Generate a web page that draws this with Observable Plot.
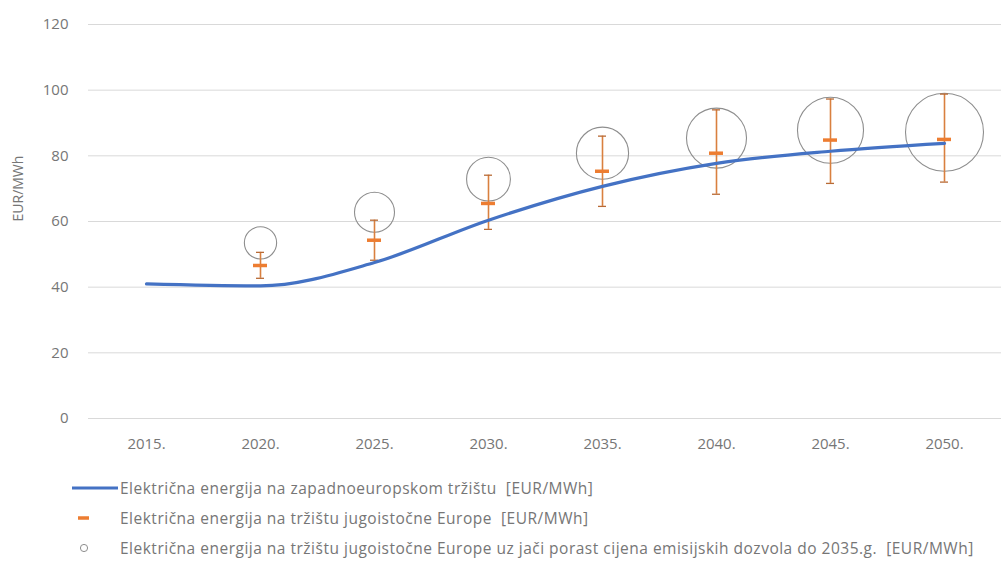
<!DOCTYPE html>
<html><head><meta charset="utf-8">
<script src="https://cdn.jsdelivr.net/npm/d3@7"></script>
<script src="https://cdn.jsdelivr.net/npm/@observablehq/plot@0.6"></script>
<style>
body{margin:0;background:#fff;font-family:"Open Sans",sans-serif;}
#wrap{position:relative;width:1005px;height:563px;}
#legend{position:absolute;left:0;top:460px;width:1005px;height:103px;}
.row{position:absolute;left:0;height:20px;width:1005px;font-size:15.5px;letter-spacing:0.5px;color:#767676;white-space:pre;}
.row svg{position:absolute;left:0;top:0;}
.row span{position:absolute;left:120px;top:0;line-height:20px;}
#chart svg g[aria-label="x-axis tick label"], #chart svg g[aria-label="y-axis tick label"],
#chart svg g[aria-label="x-axis"], #chart svg g[aria-label="y-axis"]{font-size:15px;}
</style>
</head><body><div id="wrap"><div id="chart"></div><div id="legend"></div></div>
<script>
const years = ["2015.","2020.","2025.","2030.","2035.","2040.","2045.","2050."];
const westPrice = [41.0, 40.4, 47.5, 60.4, 70.7, 77.7, 81.4, 83.8];
const seeYears = ["2020.","2025.","2030.","2035.","2040.","2045.","2050."];
const seePrice = [46.6, 54.3, 65.5, 75.3, 80.8, 84.8, 85.0];
const seeLow = [42.7, 48.2, 57.6, 64.6, 68.3, 71.6, 72.0];
const seeHigh = [50.6, 60.4, 74.1, 86.0, 94.0, 97.3, 98.8];
const seeHighCO2 = [53.5, 62.8, 72.9, 80.8, 85.4, 87.8, 87.2];
const bubbleSize = [2.6, 4.0, 4.8, 6.8, 9.0, 10.9, 15.2];
const yTicks = [0, 20, 40, 60, 80, 100, 120];
const yLabel = "EUR/MWh";
const legendLabels = [
  "Električna energija na zapadnoeuropskom tržištu  [EUR/MWh]",
  "Električna energija na tržištu jugoistočne Europe  [EUR/MWh]",
  "Električna energija na tržištu jugoistočne Europe uz jači porast cijena emisijskih dozvola do 2035.g.  [EUR/MWh]"
];

const west = years.map((year, i) => ({year, value: westPrice[i]}));
const see = seeYears.map((year, i) => ({year, value: seePrice[i], low: seeLow[i], high: seeHigh[i], co2: seeHighCO2[i], size: bubbleSize[i]}));

const blue = "#4472C4", orange = "#ED7D31", err = "#d9803f", gray = "#8e8e8e";

const chart = Plot.plot({
  width: 1005, height: 460,
  marginTop: 24, marginBottom: 42, marginLeft: 88, marginRight: 4,
  style: {fontFamily: "'Open Sans', sans-serif", fontSize: "15px", color: "#767676", background: "#fff"},
  x: {type: "band", domain: years, padding: 0, tickSize: 0, tickPadding: 20, label: null},
  y: {domain: [0, 120], ticks: yTicks, tickSize: 0, tickPadding: 20, label: null},
  r: {type: "sqrt", domain: [0, 15.2], range: [0, 39]},
  marks: [
    Plot.gridY(yTicks, {stroke: "#d9d9d9", strokeOpacity: 1, strokeWidth: 1}),
    Plot.text([yLabel], {frameAnchor: "left", rotate: -90, dx: -70, fontSize: 14, fill: "#767676"}),
    Plot.dot(see, {x: "year", y: "co2", r: "size", stroke: gray, strokeWidth: 1.1, fill: "none"}),
    Plot.ruleX(see, {x: "year", y1: "low", y2: "high", stroke: err, strokeWidth: 1.6}),
    Plot.tickY(see, {x: "year", y: "low", stroke: "#b86a35", strokeWidth: 1.3, insetLeft: 53, insetRight: 53}),
    Plot.tickY(see, {x: "year", y: "high", stroke: "#b86a35", strokeWidth: 1.3, insetLeft: 53, insetRight: 53}),
    Plot.line(west, {x: "year", y: "value", stroke: blue, strokeWidth: 3.2, curve: "monotone-x"}),
    Plot.tickY(see, {x: "year", y: "value", stroke: orange, strokeWidth: 3.5, insetLeft: 50, insetRight: 50})
  ]
});
document.getElementById("chart").appendChild(chart);

const legend = document.getElementById("legend");
const swatches = [
  `<svg width="120" height="20"><line x1="72" x2="118" y1="10" y2="10" stroke="${blue}" stroke-width="3.2"/></svg>`,
  `<svg width="120" height="20"><line x1="78" x2="89" y1="10" y2="10" stroke="${orange}" stroke-width="3.5"/></svg>`,
  `<svg width="120" height="20"><circle cx="84" cy="10" r="3.6" stroke="${gray}" stroke-width="1" fill="none"/></svg>`
];
legendLabels.forEach((t, i) => {
  const row = document.createElement("div");
  row.className = "row";
  row.style.top = (18 + i * 30) + "px";
  row.innerHTML = swatches[i] + `<span></span>`;
  row.querySelector("span").textContent = t;
  legend.appendChild(row);
});
</script>
</body></html>
